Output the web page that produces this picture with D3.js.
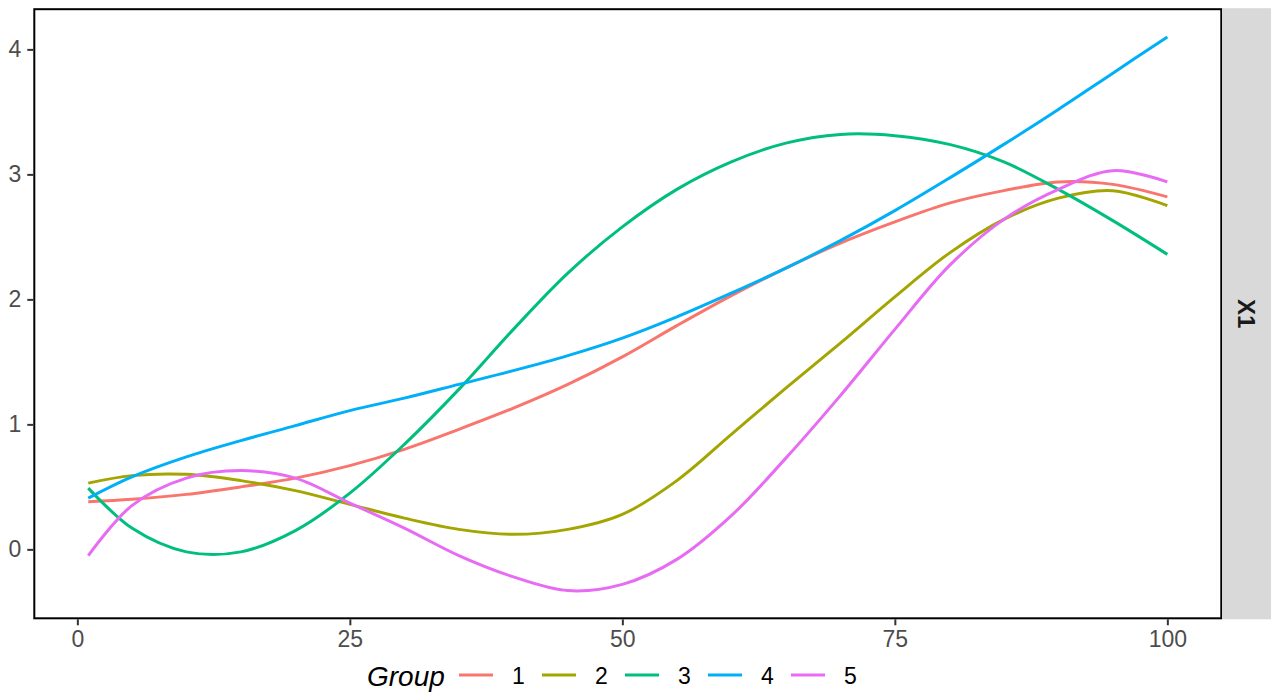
<!DOCTYPE html>
<html>
<head>
<meta charset="utf-8">
<script src="https://cdn.jsdelivr.net/npm/d3@7"></script>
<style>
  html, body { margin: 0; padding: 0; background: #ffffff; }
  svg { display: block; font-family: "Liberation Sans", Arial, sans-serif; }
</style>
</head>
<body>
<svg id="chart" width="1271" height="692"></svg>
<script>
// ---- data ----
const xValues = [1, 5, 10, 15, 20, 25, 30, 35, 40, 45, 50, 55, 60, 65, 70, 75, 80, 85, 90, 95, 100];
const group1 = [0.38, 0.40, 0.44, 0.50, 0.57, 0.67, 0.80, 0.96, 1.13, 1.32, 1.54, 1.79, 2.03, 2.25, 2.45, 2.62, 2.77, 2.87, 2.94, 2.92, 2.82];
const group2 = [0.53, 0.59, 0.60, 0.55, 0.47, 0.36, 0.25, 0.16, 0.12, 0.16, 0.28, 0.55, 0.92, 1.29, 1.65, 2.02, 2.37, 2.64, 2.81, 2.87, 2.75];
const group3 = [0.49, 0.17, -0.02, -0.02, 0.15, 0.45, 0.84, 1.28, 1.76, 2.21, 2.58, 2.88, 3.10, 3.25, 3.32, 3.31, 3.24, 3.10, 2.88, 2.63, 2.36];
const group4 = [0.41, 0.58, 0.74, 0.87, 0.99, 1.11, 1.21, 1.32, 1.43, 1.55, 1.69, 1.86, 2.05, 2.25, 2.47, 2.71, 2.97, 3.24, 3.52, 3.81, 4.10];
const group5 = [-0.05, 0.35, 0.57, 0.63, 0.57, 0.37, 0.17, -0.05, -0.22, -0.33, -0.28, -0.08, 0.27, 0.73, 1.23, 1.76, 2.27, 2.64, 2.88, 3.03, 2.94];
const groupNames = ["1", "2", "3", "4", "5"];
const groupColors = ["#F8766D", "#A3A500", "#00BF7D", "#00B0F6", "#E76BF3"];
const xTicks = [0, 25, 50, 75, 100];
const yTicks = [0, 1, 2, 3, 4];
const stripLabel = "X1";
const legendTitle = "Group";

const series = [group1, group2, group3, group4, group5].map((vals, i) => ({
  name: groupNames[i], color: groupColors[i],
  points: xValues.map((x, j) => ({ x: x, y: vals[j] }))
}));

// ---- layout ----
const svg = d3.select("#chart");
const panel = { left: 34.3, top: 9.2, right: 1221.3, bottom: 618.3 };

function expand(lo, hi) { const e = (hi - lo) * 0.05; return [lo - e, hi + e]; }
const xExt = d3.extent(xValues);
const allY = [group1, group2, group3, group4, group5].flat();
const yExt = d3.extent(allY);

const x = d3.scaleLinear().domain(expand(xExt[0], xExt[1])).range([panel.left, panel.right]);
const y = d3.scaleLinear().domain(expand(yExt[0], yExt[1])).range([panel.bottom, panel.top]);

// panel background
svg.append("rect")
  .attr("x", panel.left).attr("y", panel.top)
  .attr("width", panel.right - panel.left).attr("height", panel.bottom - panel.top)
  .attr("fill", "#ffffff");

// lines
const line = d3.line().x(d => x(d.x)).y(d => y(d.y)).curve(d3.curveCatmullRom.alpha(0.5));
svg.append("g").selectAll("path").data(series).join("path")
  .attr("d", d => line(d.points))
  .attr("fill", "none")
  .attr("stroke", d => d.color)
  .attr("stroke-width", 3)
  .attr("stroke-linecap", "butt");

// panel border
svg.append("rect")
  .attr("x", panel.left).attr("y", panel.top)
  .attr("width", panel.right - panel.left).attr("height", panel.bottom - panel.top)
  .attr("fill", "none").attr("stroke", "#000000").attr("stroke-width", 2);

// strip
svg.append("rect")
  .attr("x", 1222).attr("y", panel.top - 1)
  .attr("width", 1271 - 1222).attr("height", panel.bottom - panel.top + 2)
  .attr("fill", "#D9D9D9");
svg.append("text")
  .attr("transform", `translate(${1246.5},${(panel.top + panel.bottom) / 2}) rotate(90)`)
  .attr("text-anchor", "middle").attr("dominant-baseline", "central")
  .attr("font-size", 24).attr("font-weight", "bold").attr("fill", "#1A1A1A")
  .text(stripLabel);

// axes
const xAxis = d3.axisBottom(x).tickValues(xTicks).tickSize(6).tickPadding(5).tickFormat(d3.format("d"));
const gx = svg.append("g").attr("transform", `translate(0,${panel.bottom + 1})`).call(xAxis);
gx.select(".domain").remove();
gx.selectAll(".tick line").attr("stroke", "#333333").attr("stroke-width", 2);
gx.selectAll(".tick text").attr("fill", "#4D4D4D").attr("font-size", 23)
  .attr("font-family", "'Liberation Sans', Arial, sans-serif");

const yAxis = d3.axisLeft(y).tickValues(yTicks).tickSize(6).tickPadding(6).tickFormat(d3.format("d"));
const gy = svg.append("g").attr("transform", `translate(${panel.left - 1},0)`).call(yAxis);
gy.select(".domain").remove();
gy.selectAll(".tick line").attr("stroke", "#333333").attr("stroke-width", 2);
gy.selectAll(".tick text").attr("fill", "#4D4D4D").attr("font-size", 23)
  .attr("font-family", "'Liberation Sans', Arial, sans-serif");

// legend
const legend = svg.append("g");
legend.append("text")
  .attr("x", 367).attr("y", 686)
  .attr("font-size", 28).attr("font-style", "italic").attr("fill", "#000000")
  .text(legendTitle);
const items = legend.selectAll("g.item").data(series).join("g")
  .attr("class", "item")
  .attr("transform", (d, i) => `translate(${459 + i * 83},0)`);
items.append("line")
  .attr("x1", 0).attr("x2", 34).attr("y1", 675).attr("y2", 675)
  .attr("stroke", d => d.color).attr("stroke-width", 3);
items.append("text")
  .attr("x", 53).attr("y", 684)
  .attr("font-size", 23).attr("fill", "#000000")
  .text(d => d.name);
</script>
</body>
</html>
